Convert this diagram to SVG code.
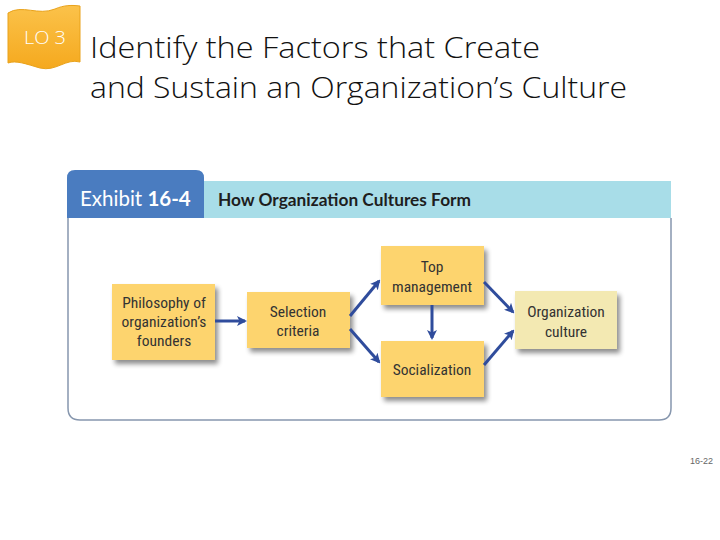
<svg xmlns="http://www.w3.org/2000/svg" width="720" height="540" viewBox="0 0 720 540">
<style>
.title{font-family:"Open Sans","Liberation Sans",sans-serif;font-weight:300;font-size:29px;fill:#111}
.node{fill:#FDD46E}
.lbl{font-family:"Roboto","Liberation Sans",sans-serif;font-size:15.5px;fill:#333;text-anchor:middle;font-stretch:condensed}
.conn line{stroke:#2F4C9C;stroke-width:3}
</style>
<defs>
<filter id="sh" x="-20%" y="-20%" width="150%" height="160%">
<feGaussianBlur in="SourceAlpha" stdDeviation="2.5"/>
<feOffset dx="3" dy="4" result="b"/>
<feComponentTransfer><feFuncA type="linear" slope="0.45"/></feComponentTransfer>
<feMerge><feMergeNode/><feMergeNode in="SourceGraphic"/></feMerge>
</filter>
<marker id="ah" markerWidth="10" markerHeight="10" refX="8" refY="5" orient="auto" markerUnits="userSpaceOnUse">
<path d="M0,0 L10,5 L0,10 L2.5,5 Z" fill="#2F4C9C"/>
</marker>
<linearGradient id="flag" x1="0" y1="0" x2="0" y2="1">
<stop offset="0" stop-color="#FBC24A"/><stop offset="1" stop-color="#F5A91E"/>
</linearGradient>
</defs>
<rect width="720" height="540" fill="#fff"/>
<g id="lo3">
<path d="M8,13 C22,4 38,16 55,9 C64,5 72,5 80,6 L80,62 C66,58 56,72 40,68 C26,64 16,60 8,63 Z" fill="url(#flag)" stroke="#E9A21A" stroke-width="1"/>
<text x="45" y="44" font-family="Open Sans, Liberation Sans, sans-serif" font-weight="300" font-size="19" fill="#fff" text-anchor="middle" textLength="42" lengthAdjust="spacingAndGlyphs">LO 3</text>
</g>
<g id="title">
<text class="title" x="90" y="58" textLength="450" lengthAdjust="spacingAndGlyphs">Identify the Factors that Create</text>
<text class="title" x="90" y="98" textLength="537" lengthAdjust="spacingAndGlyphs">and Sustain an Organization’s Culture</text>
</g>
<g id="exhibit">
<path d="M68,218 L68,408 Q68,420 80,420 L659,420 Q671,420 671,408 L671,218" fill="none" stroke="#8797AE" stroke-width="1.5"/>
<rect x="204" y="181" width="467" height="37" fill="#A8DDE8"/>
<path d="M67,218 L67,178 Q67,170 75,170 L196,170 Q204,170 204,178 L204,218 Z" fill="#4A7CC0"/>
<text x="80" y="206" font-family="Lato, Liberation Sans, sans-serif" font-size="20.5" fill="#fff">Exhibit <tspan font-weight="bold">16-4</tspan></text>
<text x="218" y="206" font-family="Lato, Liberation Sans, sans-serif" font-size="16.5" font-weight="bold" fill="#1e1e1e" textLength="253" lengthAdjust="spacingAndGlyphs">How Organization Cultures Form</text>
</g>
<g id="philosophy">
<rect class="node" x="112" y="284" width="103" height="76" filter="url(#sh)"/>
<text class="lbl" x="164" y="308">Philosophy of</text>
<text class="lbl" x="164" y="327">organization’s</text>
<text class="lbl" x="164" y="346">founders</text>
</g>
<g id="selection">
<rect class="node" x="247" y="292" width="103" height="56" filter="url(#sh)"/>
<text class="lbl" x="298" y="317">Selection</text>
<text class="lbl" x="298" y="336">criteria</text>
</g>
<g id="top">
<rect class="node" x="381" y="246" width="103" height="59" filter="url(#sh)"/>
<text class="lbl" x="432" y="272">Top</text>
<text class="lbl" x="432" y="292">management</text>
</g>
<g id="socialization">
<rect class="node" x="381" y="341" width="103" height="56" filter="url(#sh)"/>
<text class="lbl" x="432" y="375">Socialization</text>
</g>
<g id="culture">
<rect x="515" y="291" width="102" height="58" fill="#F3E9B2" filter="url(#sh)"/>
<text class="lbl" x="566" y="317">Organization</text>
<text class="lbl" x="566" y="337">culture</text>
</g>
<g class="conn" id="connectors">
<line x1="215" y1="321" x2="245" y2="321" marker-end="url(#ah)"/>
<line x1="350" y1="316" x2="379" y2="281" marker-end="url(#ah)"/>
<line x1="350" y1="329" x2="379" y2="362" marker-end="url(#ah)"/>
<line x1="432" y1="305" x2="432" y2="338" marker-end="url(#ah)"/>
<line x1="484" y1="282" x2="513" y2="312" marker-end="url(#ah)"/>
<line x1="484" y1="365" x2="513" y2="331" marker-end="url(#ah)"/>
</g>
<text x="713" y="464" font-family="Liberation Sans, sans-serif" font-size="9" fill="#666" text-anchor="end">16-22</text>
</svg>
